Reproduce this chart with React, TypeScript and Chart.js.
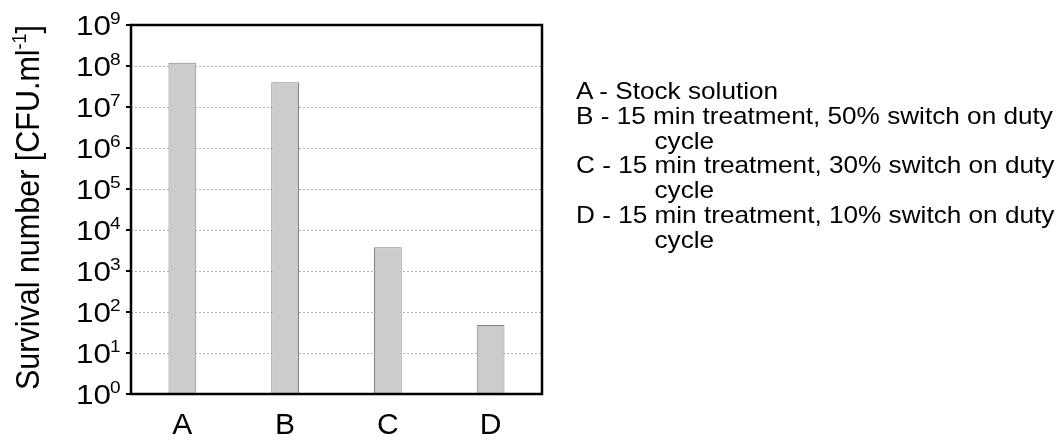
import React, { useEffect, useRef } from "react";
import { Chart, registerables } from "chart.js";

Chart.register(...registerables);

const categories = ["A", "B", "C", "D"];
const survival = [1.2e8, 4.0e7, 3.8e3, 48];
const yTickExponents = [0, 1, 2, 3, 4, 5, 6, 7, 8, 9];
const yTitleMain = "Survival number [CFU.ml";
const yTitleSup = "-1";
const yTitleTail = "]";
const legendEntries = [
  ["A - Stock solution"],
  ["B - 15 min treatment, 50% switch on duty", "cycle"],
  ["C - 15 min treatment, 30% switch on duty", "cycle"],
  ["D - 15 min treatment, 10% switch on duty", "cycle"],
];

const FONT = '"Liberation Sans", Arial, Helvetica, sans-serif';

const framePlugin = {
  id: "frameAndLabels",
  afterDatasetsDraw(chart: any) {
    const { ctx, chartArea } = chart;
    const { left, right, top, bottom } = chartArea;
    const y = chart.scales.y;
    ctx.save();
    ctx.strokeStyle = "#000";
    ctx.lineWidth = 2.5;
    ctx.strokeRect(left, top, right - left, bottom - top);
    for (const e of yTickExponents) {
      const py = y.getPixelForValue(Math.pow(10, e));
      ctx.beginPath();
      ctx.lineWidth = 2;
      ctx.moveTo(left - 5, py);
      ctx.lineTo(left, py);
      ctx.stroke();

      ctx.fillStyle = "#000";
      ctx.save();
      ctx.translate(111, py + 10);
      ctx.scale(1.12, 1);
      ctx.font = "28px " + FONT;
      ctx.textAlign = "right";
      ctx.textBaseline = "alphabetic";
      ctx.fillText("10", 0, 0);
      ctx.restore();

      ctx.save();
      ctx.translate(110, py - 1.5);
      ctx.scale(1.12, 1);
      ctx.font = "17px " + FONT;
      ctx.textAlign = "left";
      ctx.textBaseline = "alphabetic";
      ctx.fillText(String(e), 0, 0);
      ctx.restore();
    }
    ctx.save();
    ctx.translate(39, (top + bottom) / 2 - 2);
    ctx.rotate(-Math.PI / 2);
    ctx.scale(1, 1.1);
    ctx.fillStyle = "#000";
    ctx.textBaseline = "alphabetic";
    ctx.textAlign = "left";
    const mainFont = "30.5px " + FONT;
    const supFont = "18px " + FONT;
    ctx.font = mainFont;
    const w1 = ctx.measureText(yTitleMain).width;
    const w3 = ctx.measureText(yTitleTail).width;
    ctx.font = supFont;
    const w2 = ctx.measureText(yTitleSup).width;
    let x = -(w1 + w2 + w3) / 2;
    ctx.font = mainFont;
    ctx.fillText(yTitleMain, x, 0);
    x += w1;
    ctx.font = supFont;
    ctx.fillText(yTitleSup, x, -12);
    x += w2;
    ctx.font = mainFont;
    ctx.fillText(yTitleTail, x, 0);
    ctx.restore();
    ctx.restore();
  },
};

export default function App() {
  const canvasRef = useRef<HTMLCanvasElement | null>(null);

  useEffect(() => {
    if (!canvasRef.current) return;
    const chart = new Chart(canvasRef.current, {
      type: "bar",
      data: {
        labels: categories,
        datasets: [
          {
            data: survival,
            backgroundColor: "#cccccc",
            borderColor: "#858585",
            borderWidth: 1,
            barPercentage: 0.27,
            categoryPercentage: 1.0,
          },
        ],
      },
      options: {
        animation: false,
        responsive: true,
        maintainAspectRatio: false,
        layout: { padding: { left: 0, top: 25, right: 522, bottom: 0 } },
        plugins: {
          legend: { display: false },
          tooltip: { enabled: false },
          title: { display: false },
        },
        scales: {
          x: {
            grid: { display: false, drawTicks: false },
            border: { display: false },
            ticks: {
              color: "#000",
              padding: 14,
              font: { family: FONT, size: 30 },
            },
            afterFit: (s: any) => {
              s.height = 48;
            },
          },
          y: {
            type: "logarithmic",
            min: 1,
            max: 1e9,
            afterBuildTicks: (s: any) => {
              s.ticks = yTickExponents.map((e) => ({ value: Math.pow(10, e) }));
            },
            afterFit: (s: any) => {
              s.width = 131;
            },
            ticks: { display: false },
            grid: {
              drawTicks: false,
              lineWidth: 1,
              color: (c: any) =>
                c.tick && (c.tick.value === 1 || c.tick.value === 1e9)
                  ? "rgba(0,0,0,0)"
                  : "#b0b0b0",
            },
            border: { display: false, dash: [2, 2] },
          },
        },
      },
      plugins: [framePlugin],
    });
    return () => chart.destroy();
  }, []);

  return (
    <div style={{ position: "absolute", left: 0, top: 0, width: 1064, height: 442, background: "#fff" }}>
      <canvas ref={canvasRef} style={{ width: 1064, height: 442 }} />
      <div
        style={{
          position: "absolute",
          left: 576,
          top: 79,
          fontFamily: FONT,
          fontSize: 24,
          lineHeight: "24.8px",
          color: "#000",
          whiteSpace: "nowrap",
          transform: "scaleX(1.09)",
          transformOrigin: "left top",
        }}
      >
        {legendEntries.map((lines, i) => (
          <React.Fragment key={i}>
            {lines.map((t, j) => (
              <div key={j} style={{ paddingLeft: j === 0 ? 0 : 72 }}>
                {t}
              </div>
            ))}
          </React.Fragment>
        ))}
      </div>
    </div>
  );
}
